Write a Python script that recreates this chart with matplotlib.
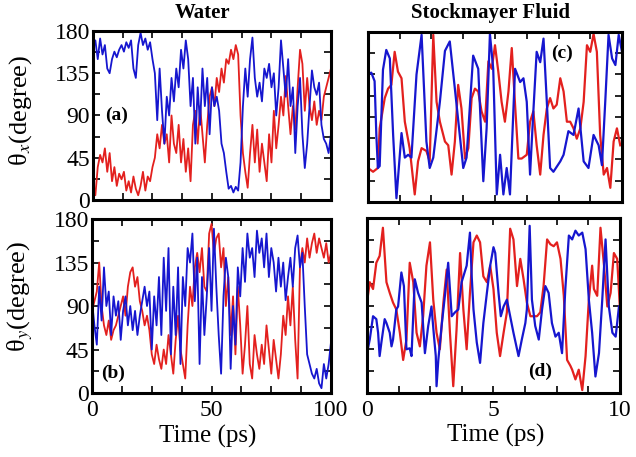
import numpy as np
import matplotlib
matplotlib.use("Agg")
import matplotlib.pyplot as plt
from matplotlib.ticker import MultipleLocator

plt.rcParams["font.family"] = ["Liberation Serif", "DejaVu Serif"]
plt.rcParams["mathtext.fontset"] = "stix"

RED = "#e3201e"
BLUE = "#1616cf"

# water trajectories, sampled every 1 ps
water_time = np.arange(0, 101)
water_x_red = [20, 5, 35, 48, 40, 55, 30, 50, 20, 35,
               15, 28, 22, 30, 10, 20, 8, 25, 12, 5,
               15, 30, 10, 25, 20, 35, 45, 70, 55, 80,
               60, 70, 40, 90, 60, 50, 80, 40, 65, 30,
               55, 20, 80, 95, 60, 100, 70, 40, 80,
               110, 120, 100, 130, 115, 140, 125, 150, 145, 160,
               150, 165, 155, 90, 50, 30, 13, 50, 80, 40,
               75, 30, 60, 40, 20, 70, 40, 95, 55, 80,
               110, 90, 132, 100, 70, 100, 75, 120, 160, 145,
               95, 130, 100, 85, 105, 80, 95, 85, 110, 120,
               130, 140]
water_x_blue = [160, 170, 150, 172, 155, 165, 140, 135, 150, 158,
                152, 160, 165, 158, 168, 162, 170, 140, 130, 165,
                178, 165, 172, 160, 168, 150, 135, 85, 140, 95,
                60, 110, 90, 130, 105, 140, 120, 160, 140, 170,
                150, 100, 130, 60, 120, 80, 140, 100, 130, 70,
                120, 100, 110, 95, 60, 50, 30, 12, 15, 8,
                14, 10, 40, 100, 140, 110, 150, 173, 130, 110,
                125, 105, 140, 130, 145, 120, 135, 90, 120, 170,
                140, 110, 150, 100, 120, 50, 100, 130, 70, 34,
                60, 100, 138, 120, 112, 125, 80, 65, 60, 50,
                70]
water_y_red = [85, 95, 105, 135, 90, 70, 60, 75, 55, 65,
               70, 80, 90, 100, 80, 110, 125, 130, 110, 120,
               95, 85, 70, 80, 65, 40, 30, 50, 35, 25,
               45, 30, 60, 40, 20, 55, 80, 45, 30, 15,
               70, 110, 90, 130, 145, 125, 150, 110, 105, 165,
               175, 145, 160, 165, 130, 150, 90, 120, 60, 100,
               40, 110, 70, 20, 50, 90, 30, 15, 60, 40,
               25, 50, 30, 70, 45, 20, 55, 35, 15, 40,
               80, 60, 100, 70, 110, 55, 15, 130, 150, 135,
               160, 140, 155, 165, 145, 160, 150, 140, 155, 135,
               145]
water_y_blue = [95, 70, 50, 110, 75, 130, 90, 105, 60, 100,
                80, 95, 55, 85, 100, 70, 90, 65, 85, 60,
                80, 95, 110, 90, 105, 45, 100, 70, 120, 60,
                140, 85, 150, 40, 110, 60, 130, 30, 120, 90,
                150, 135, 165, 95, 140, 30, 120, 60, 100, 150,
                85, 170, 110, 60, 20, 100, 140, 120, 25, 90,
                50, 130, 100, 150, 115, 165, 140, 150, 120, 168,
                145, 160, 130, 165, 120, 150, 135, 105, 140, 110,
                135, 96, 120, 140, 110, 150, 163, 130, 145, 90,
                40, 30, 20, 15, 25, 10, 5, 30, 15, 30,
                53]

# Stockmayer fluid trajectories
sm_x_red_t = [0.00, 0.20, 0.39, 0.46, 0.66, 0.79, 0.92, 1.05, 1.18, 1.32,
              1.45, 1.64, 1.84, 1.97, 2.11, 2.30, 2.43, 2.57, 2.70, 2.83,
              3.03, 3.16, 3.29, 3.42, 3.55, 3.68, 3.82, 3.95, 4.08, 4.21,
              4.34, 4.47, 4.61, 4.74, 4.87, 5.00, 5.13, 5.26, 5.39, 5.53,
              5.66, 5.79, 5.92, 6.05, 6.25, 6.38, 6.51, 6.64, 6.78, 6.91,
              7.04, 7.17, 7.30, 7.43, 7.57, 7.70, 7.83, 7.96, 8.09, 8.22,
              8.36, 8.49, 8.62, 8.75, 8.88, 9.01, 9.14, 9.28, 9.41, 9.54,
              9.67, 9.80, 9.93]
sm_x_red = [36, 32, 36, 78, 110, 120, 124, 159, 138, 131,
            85, 57, 8, 43, 57, 54, 43, 177, 106, 85,
            64, 60, 29, 64, 124, 99, 46, 57, 110, 120,
            117, 96, 85, 149, 141, 166, 138, 106, 85, 117,
            163, 103, 46, 46, 50, 85, 96, 60, 29, 71,
            99, 110, 99, 103, 131, 117, 85, 85, 78, 67,
            78, 106, 166, 159, 178, 159, 71, 29, 36, 15,
            64, 78, 60]
sm_x_blue_t = [0.00, 0.13, 0.26, 0.33, 0.39, 0.46, 0.59, 0.72, 0.86, 0.99,
               1.12, 1.32, 1.45, 1.58, 1.71, 1.91, 2.11, 2.30, 2.43, 2.57,
               2.83, 3.03, 3.22, 3.42, 3.75, 3.88, 4.14, 4.34, 4.54, 4.67,
               4.80, 4.93, 5.07, 5.20, 5.33, 5.46, 5.59, 5.79, 5.99, 6.12,
               6.25, 6.38, 6.51, 6.64, 6.78, 6.91, 7.04, 7.17, 7.30, 7.57,
               7.70, 7.89, 8.09, 8.29, 8.49, 8.68, 8.88, 9.08, 9.21, 9.34,
               9.47, 9.61, 9.74, 9.87, 10.0]
sm_x_blue = [135, 137, 128, 70, 36, 38, 140, 161, 152, 71,
             4, 73, 47, 50, 47, 135, 177, 64, 36, 47,
             106, 160, 170, 120, 36, 47, 155, 141, 22, 78,
             178, 141, 8, 50, 8, 36, 8, 141, 127, 131,
             106, 29, 96, 159, 148, 173, 106, 36, 32, 43,
             50, 75, 71, 99, 43, 36, 71, 60, 39, 106,
             177, 152, 145, 177, 159]

sm_y_red_t = [0.00, 0.11, 0.24, 0.37, 0.50, 0.63, 0.77, 0.90, 1.03, 1.16,
              1.30, 1.43, 1.56, 1.69, 1.83, 1.96, 2.09, 2.22, 2.35, 2.49,
              2.62, 2.75, 2.88, 3.02, 3.15, 3.28, 3.41, 3.54, 3.68, 3.81,
              3.94, 4.07, 4.21, 4.34, 4.47, 4.60, 4.74, 4.87, 5.00, 5.13,
              5.26, 5.40, 5.53, 5.66, 5.79, 5.93, 6.06, 6.19, 6.32, 6.46,
              6.59, 6.72, 6.85, 6.98, 7.12, 7.25, 7.38, 7.51, 7.65, 7.78,
              7.91, 8.04, 8.11, 8.24, 8.37, 8.51, 8.64, 8.77, 8.90, 8.97,
              9.10, 9.23, 9.37, 9.50, 9.63, 9.76, 9.89, 10.0]
sm_y_red = [93, 114, 107, 134, 141, 170, 114, 103, 93, 86,
            62, 34, 55, 134, 114, 62, 48, 79, 131, 155,
            96, 62, 45, 93, 127, 62, 7, 65, 144, 86,
            45, 103, 155, 162, 155, 120, 114, 131, 107, 62,
            38, 62, 83, 169, 158, 110, 138, 117, 93, 79,
            79, 79, 83, 110, 158, 153, 151, 155, 138, 100,
            34, 28, 24, 14, 24, 3, 38, 96, 131, 107,
            100, 170, 131, 89, 103, 144, 138, 86]
sm_y_blue_t = [0.00, 0.11, 0.24, 0.37, 0.44, 0.50, 0.57, 0.70, 0.77, 0.90,
               0.97, 1.03, 1.16, 1.23, 1.36, 1.46, 1.56, 1.69, 1.76, 1.89,
               2.02, 2.16, 2.29, 2.42, 2.55, 2.65, 2.72, 2.75, 2.82, 2.95,
               3.08, 3.21, 3.35, 3.48, 3.61, 3.74, 3.94, 4.07, 4.14, 4.21,
               4.34, 4.47, 4.60, 4.74, 4.87, 5.00, 5.07, 5.20, 5.29, 5.40,
               5.53, 5.66, 5.79, 5.99, 6.12, 6.26, 6.32, 6.43, 6.52, 6.65,
               6.79, 6.92, 7.05, 7.18, 7.31, 7.45, 7.58, 7.71, 7.84, 7.98,
               8.11, 8.24, 8.37, 8.51, 8.64, 8.77, 8.90, 9.03, 9.17, 9.30,
               9.43, 9.56, 9.70, 9.83, 9.96]
sm_y_blue = [41, 55, 79, 76, 62, 38, 52, 76, 72, 62,
             48, 55, 86, 89, 124, 110, 45, 46, 38, 117,
             103, 93, 41, 69, 89, 58, 38, 7, 34, 69,
             100, 134, 79, 83, 86, 114, 131, 165, 120, 86,
             52, 31, 72, 103, 131, 150, 144, 103, 79, 89,
             96, 79, 62, 38, 55, 72, 86, 172, 96, 69,
             55, 86, 110, 103, 72, 58, 62, 41, 107, 162,
             158, 167, 162, 165, 148, 96, 62, 17, 41, 96,
             158, 89, 62, 58, 89]

fig = plt.figure(figsize=(6.36, 4.57), dpi=100)

# [left, bottom, width, height] in figure fraction
ax_a = fig.add_axes([0.1462, 0.5624, 0.3742, 0.3698])
ax_b = fig.add_axes([0.1447, 0.1400, 0.3758, 0.3807])
ax_c = fig.add_axes([0.5786, 0.5580, 0.3994, 0.3720])
ax_d = fig.add_axes([0.5770, 0.1400, 0.3978, 0.3829])

ax_a.plot(water_time, water_x_red, color=RED, lw=1.3)
ax_a.plot(water_time, water_x_blue, color=BLUE, lw=1.3)
ax_b.plot(water_time, water_y_red, color=RED, lw=1.3)
ax_b.plot(water_time, water_y_blue, color=BLUE, lw=1.3)
ax_c.plot(sm_x_red_t, sm_x_red, color=RED, lw=1.6)
ax_c.plot(sm_x_blue_t, sm_x_blue, color=BLUE, lw=1.6)
ax_d.plot(sm_y_red_t, sm_y_red, color=RED, lw=1.6)
ax_d.plot(sm_y_blue_t, sm_y_blue, color=BLUE, lw=1.6)

for ax in (ax_a, ax_b, ax_c, ax_d):
    ax.set_ylim(0, 180)
    ax.yaxis.set_major_locator(MultipleLocator(45))
    ax.yaxis.set_minor_locator(MultipleLocator(22.5))
    ax.tick_params(which="both", direction="in", top=True, right=True,
                   width=1.2, length=5, labelsize=17, pad=2)
    for sp in ax.spines.values():
        sp.set_linewidth(2.2)

for ax in (ax_a, ax_b):
    ax.set_xlim(0, 100)
    ax.xaxis.set_major_locator(MultipleLocator(50))
    ax.xaxis.set_minor_locator(MultipleLocator(12.5))

for ax in (ax_c, ax_d):
    ax.set_xlim(0, 10)
    ax.xaxis.set_major_locator(MultipleLocator(5))
    ax.xaxis.set_minor_locator(MultipleLocator(1.25))
    ax.tick_params(labelleft=False)

ax_a.tick_params(labelbottom=False)
ax_c.tick_params(labelbottom=False)
ax_b.tick_params(axis="x", pad=5)
ax_d.tick_params(axis="x", pad=5)

# panel tags
tag = dict(fontsize=14, fontweight="bold")
ax_a.text(5, 90, "(a)", va="center", ha="left", **tag)
ax_b.text(4, 20, "(b)", va="center", ha="left", **tag)
ax_c.text(7.2, 157, "(c)", va="center", ha="left", **tag)
ax_d.text(6.35, 22, "(d)", va="center", ha="left", **tag)

fig.text(0.318, 0.972, "Water", ha="center", va="center",
         fontsize=15, fontweight="bold")
fig.text(0.772, 0.972, "Stockmayer Fluid", ha="center", va="center",
         fontsize=15, fontweight="bold")

fig.text(0.032, 0.759, "θ$_x$(degree)", rotation=90,
         ha="center", va="center", fontsize=19)
fig.text(0.032, 0.352, "θ$_y$(degree)", rotation=90,
         ha="center", va="center", fontsize=19)

fig.text(0.327, 0.044, "Time (ps)", ha="center", va="center", fontsize=18)
fig.text(0.780, 0.048, "Time (ps)", ha="center", va="center", fontsize=18)

fig.savefig("out.png", dpi=100)
